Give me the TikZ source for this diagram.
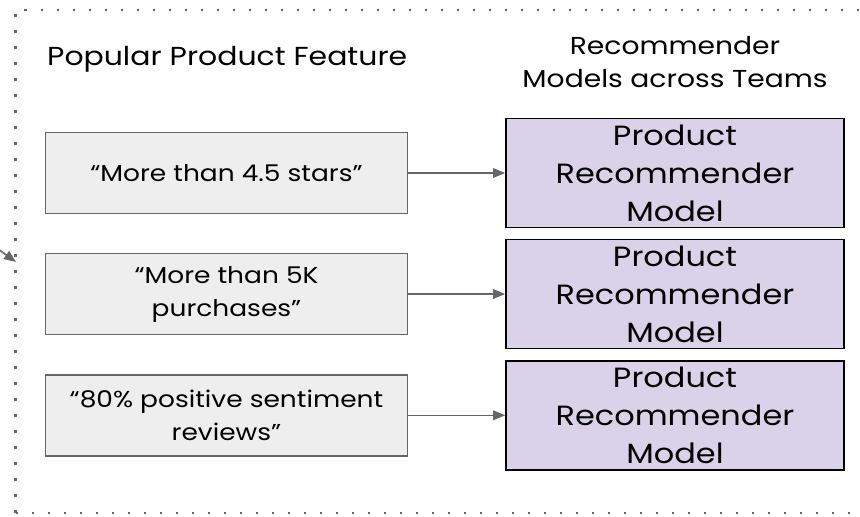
\documentclass[tikz,border=0pt]{standalone}
\usepackage{fontspec}
\setmainfont{Poppins}[FakeStretch=1.15]
\usetikzlibrary{arrows.meta}
\definecolor{boxgray}{HTML}{EEEEEE}
\definecolor{edgegray}{HTML}{666666}
\definecolor{lilac}{HTML}{D9D2E9}
\tikzset{
  featbox/.style={draw=edgegray, fill=boxgray, line width=1.6pt, minimum width=362pt, minimum height=81pt, inner sep=0pt, align=center, font=\fontsize{23}{33}\selectfont},
  modelbox/.style={draw=black, fill=lilac, line width=1.6pt, minimum width=338pt, minimum height=109pt, inner sep=0pt, align=center, font=\fontsize{27.8}{38}\selectfont},
  lefthead/.style={inner sep=0pt, font=\fontsize{26}{33}\selectfont},
  righthead/.style={inner sep=0pt, align=center, font=\fontsize{24.5}{33}\selectfont},
  conn/.style={draw=edgegray, line width=1.6pt, -{Triangle[length=12pt,width=9.5pt]}},
}
\begin{document}
\begin{tikzpicture}[x=1pt,y=-1pt]
\useasboundingbox (0,0) rectangle (860,517);
\clip (0,0) rectangle (860,517);
\draw[edgegray, line width=2.6pt, dash pattern=on 2.6pt off 13.4pt] (15.5,513) -- (15.5,10) -- (880,10);
\draw[edgegray, line width=2.6pt, dash pattern=on 2.6pt off 13.4pt] (15.5,513) -- (880,513);
\node[lefthead, anchor=base west] (hleft) at (47,65) {Popular Product Feature};
\node[righthead] (hright) at (675,62) {Recommender\\Models across Teams};
\node[featbox] (f1) at (226.5,173) {“More than 4.5 stars”};
\node[featbox] (f2) at (226.5,294) {“More than 5K\\purchases”};
\node[featbox] (f3) at (226.5,415.3) {“80\% positive sentiment\\reviews”};
\node[modelbox] (m1) at (675,173) {Product\\Recommender\\Model};
\node[modelbox] (m2) at (675,294) {Product\\Recommender\\Model};
\node[modelbox] (m3) at (675,415.3) {Product\\Recommender\\Model};
\draw[conn] (f1) -- (m1);
\draw[conn] (f2) -- (m2);
\draw[conn] (f3) -- (m3);
\coordinate (ext) at (-2,249);
\coordinate (entry) at (16,262);
\draw[conn] (ext) -- (entry);
\end{tikzpicture}
\end{document}
